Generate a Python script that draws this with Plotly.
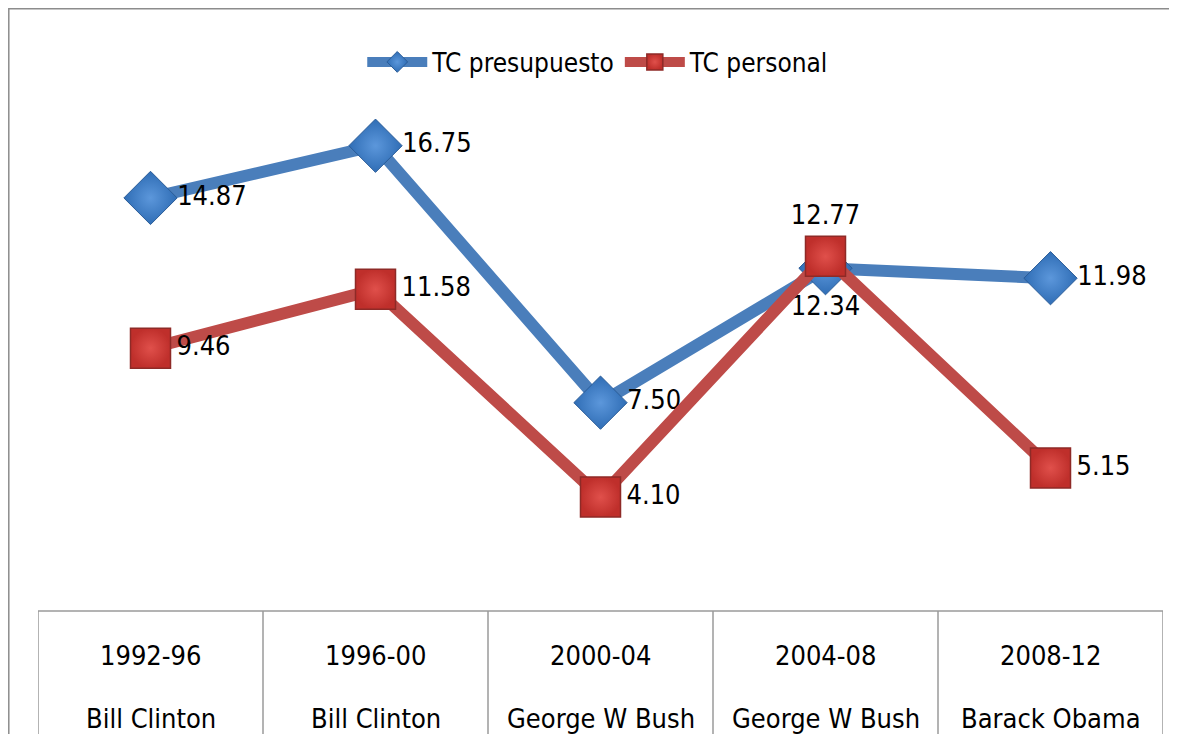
import plotly.graph_objects as go

periods = ["1992-96", "1996-00", "2000-04", "2004-08", "2008-12"]
presidents = ["Bill Clinton", "Bill Clinton", "George W Bush", "George W Bush", "Barack Obama"]
tc_presupuesto = [14.87, 16.75, 7.50, 12.34, 11.98]
tc_personal = [9.46, 11.58, 4.10, 12.77, 5.15]
presupuesto_pos = ["middle right", "middle right", "middle right", "bottom center", "middle right"]
personal_pos = ["middle right", "middle right", "middle right", "top center", "middle right"]

FONT = "DejaVu Sans Condensed, Liberation Sans Narrow, Liberation Sans, sans-serif"

fig = go.Figure()
fig.add_trace(go.Scatter(
    x=periods, y=tc_presupuesto, name="TC presupuesto",
    mode="lines+markers+text",
    line=dict(color="#4A7EBB", width=12),
    marker=dict(symbol="diamond", size=41, color="#2F6DB5",
                line=dict(color="#2A5C98", width=1),
                gradient=dict(type="radial", color="#5C97DB")),
    text=[f"{v:.2f}" for v in tc_presupuesto],
    textposition=presupuesto_pos,
    textfont=dict(family=FONT, size=27, color="black"),
))
fig.add_trace(go.Scatter(
    x=periods, y=tc_personal, name="TC personal",
    mode="lines+markers+text",
    line=dict(color="#BE4B48", width=12),
    marker=dict(symbol="square", size=40, color="#BF2F2B",
                line=dict(color="#8E2A27", width=1.5),
                gradient=dict(type="radial", color="#E0504B")),
    text=[f"{v:.2f}" for v in tc_personal],
    textposition=personal_pos,
    textfont=dict(family=FONT, size=27, color="black"),
))

# page has an 8px body margin, so the figure is drawn 8px in from the window edge
OFF = 8
W, H = 1177 - OFF, 734 - OFF
L, R = 38 - OFF, (1177 - OFF) - (1163 - OFF)
T, B = 111 - OFF, (734 - OFF) - (611 - OFF)
PH = H - T - B  # 500

def py(p):
    """reference window pixel row -> paper y"""
    return (H - B - (p - OFF)) / PH

def px(p):
    """reference window pixel column -> paper x"""
    return ((p - OFF) - L) / (W - L - R)

shapes = []
# outer frame
shapes.append(dict(type="rect", xref="paper", yref="paper",
                   x0=px(8.8), x1=px(1200), y0=py(760), y1=py(8.8),
                   line=dict(color="#8C8C8C", width=1.5), layer="below"))
# table top line
shapes.append(dict(type="line", xref="x", yref="paper",
                   x0=-0.5, x1=len(periods) - 0.5, y0=0, y1=0,
                   line=dict(color="#9A9A9A", width=1.5)))
# table vertical lines
for i in range(len(periods) + 1):
    shapes.append(dict(type="line", xref="x", yref="paper",
                       x0=i - 0.5, x1=i - 0.5, y0=0, y1=py(760),
                       line=dict(color="#9A9A9A", width=1.5)))

annotations = []
for per, pres in zip(periods, presidents):
    annotations.append(dict(x=per, xref="x", y=py(655), yref="paper",
                            text=per, showarrow=False, yanchor="middle",
                            font=dict(family=FONT, size=27, color="black")))
    annotations.append(dict(x=per, xref="x", y=py(718), yref="paper",
                            text=pres, showarrow=False, yanchor="middle",
                            font=dict(family=FONT, size=27, color="black")))

fig.update_layout(
    width=W, height=H,
    margin=dict(l=L, r=R, t=T, b=B),
    paper_bgcolor="white", plot_bgcolor="white",
    showlegend=True,
    legend=dict(orientation="h", x=0.498, xanchor="center", y=py(62), yanchor="middle",
                font=dict(family=FONT, size=26, color="black"),
                itemwidth=60, bgcolor="rgba(0,0,0,0)"),
    xaxis=dict(type="category", range=[-0.5, len(periods) - 0.5],
               showticklabels=False, showgrid=False, zeroline=False, showline=False,
               fixedrange=True),
    yaxis=dict(range=[0, 18], visible=False, showgrid=False, zeroline=False),
    shapes=shapes, annotations=annotations,
)

fig.write_html("out.html")
